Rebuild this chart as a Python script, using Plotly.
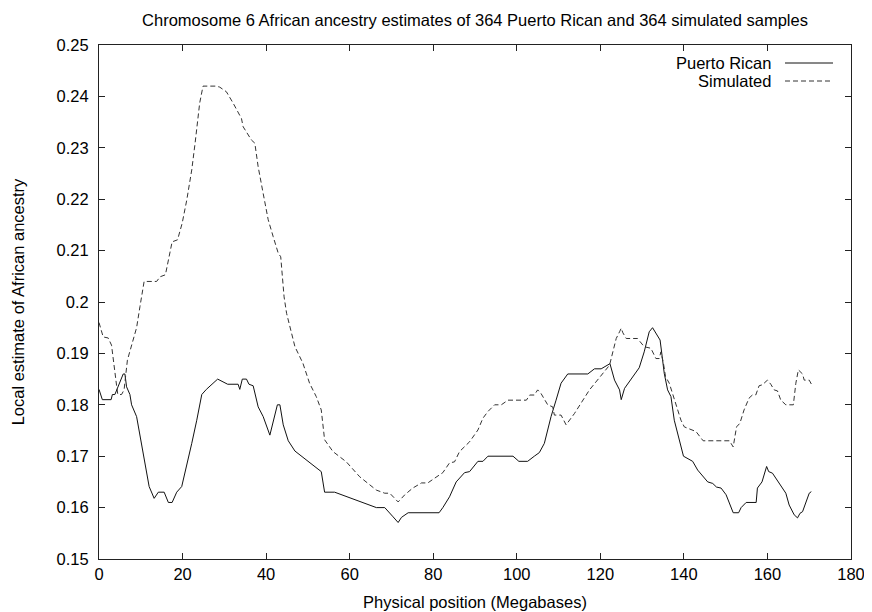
import plotly.graph_objects as go

pr_x = [0, 0.8, 2.9, 3.2, 3.8, 4.6, 5.8, 6.2, 6.6, 7.4, 7.8, 9.0, 10.2, 11.0, 12.0, 13.2, 14.2, 15.6,
        16.6, 17.5, 18.6, 19.8, 21.0, 22.2, 23.4, 24.6, 25.7, 28.4, 30.8, 33.3, 33.7, 34.3, 35.3, 35.9,
        36.9, 38.1, 39.3, 40.9, 42.7, 43.3, 44.1, 45.3, 46.9, 53.2, 54.0, 56.4, 66.4, 68.4, 70.4, 71.6,
        72.4, 74.0, 81.4, 82.3, 83.9, 85.5, 87.5, 88.7, 90.7, 91.9, 93.1, 99.1, 100.5, 102.6, 104.2,
        105.4, 106.6, 107.4, 108.2, 109.4, 110.6, 112.2, 117.0, 118.6, 120.2, 122.3, 123.4, 124.6,
        125.0, 125.8, 127.7, 129.3, 130.5, 131.7, 132.5, 133.7, 134.3, 134.8, 135.3, 136.1, 136.9,
        137.7, 138.9, 139.9, 142.1, 143.3, 145.7, 146.9, 147.8, 148.9, 150.1, 151.8, 153.1, 153.7,
        154.9, 157.3, 157.6, 158.7, 159.8, 160.3, 161.2, 162.8, 164.4, 165.2, 166.4, 167.2, 167.8,
        168.4, 169.2, 170.0, 170.5]
pr_y = [0.183, 0.181, 0.181, 0.182, 0.182, 0.1835, 0.186, 0.186, 0.1835, 0.182, 0.180, 0.1777, 0.1725,
        0.1686, 0.1641, 0.1618, 0.163, 0.163, 0.161, 0.161, 0.163, 0.1641, 0.168, 0.1725, 0.177, 0.182,
        0.183, 0.185, 0.184, 0.184, 0.183, 0.185, 0.185, 0.184, 0.1837, 0.1796, 0.1777, 0.1741, 0.180,
        0.180, 0.1761, 0.173, 0.171, 0.167, 0.163, 0.163, 0.160, 0.160, 0.1582, 0.1571, 0.1581, 0.159,
        0.159, 0.160, 0.1621, 0.165, 0.1668, 0.167, 0.169, 0.169, 0.170, 0.170, 0.169, 0.169, 0.170,
        0.1707, 0.1725, 0.1751, 0.1777, 0.1809, 0.1842, 0.186, 0.186, 0.187, 0.187, 0.188, 0.1848,
        0.1829, 0.181, 0.1832, 0.1855, 0.1872, 0.1903, 0.1942, 0.195, 0.1933, 0.1926, 0.1894, 0.1861,
        0.1829, 0.1816, 0.177, 0.1732, 0.170, 0.169, 0.1673, 0.165, 0.1647, 0.164, 0.1638, 0.1625,
        0.159, 0.159, 0.160, 0.161, 0.161, 0.1638, 0.165, 0.168, 0.167, 0.1667, 0.1647, 0.1628, 0.1605,
        0.1586, 0.158, 0.1589, 0.1592, 0.1611, 0.1628, 0.1631]

sim_x = [0, 1.0, 2.2, 3.0, 4.2, 4.5, 5.4, 6.0, 6.8, 7.6, 9.0, 9.8, 10.8, 13.8, 14.6, 15.9, 16.6, 17.5,
         18.8, 19.9, 21.0, 22.2, 23.0, 23.6, 24.1, 24.9, 28.1, 28.9, 30.5, 32.1, 34.1, 34.5, 36.5, 37.3,
         38.1, 39.3, 40.5, 41.7, 42.9, 43.5, 44.3, 44.9, 46.5, 46.9, 48.8, 50.4, 52.0, 53.2, 54.0, 56.0,
         59.2, 62.4, 66.4, 68.4, 69.6, 71.6, 73.2, 75.1, 77.2, 78.7, 80.3, 82.3, 83.9, 85.1, 86.3, 88.7,
         90.7, 91.9, 93.1, 94.7, 96.3, 97.9, 102.3, 103.1, 104.2, 105.0, 105.8, 107.4, 108.6, 109.0,
         110.6, 111.8, 113.8, 117.4, 122.2, 123.8, 124.6, 125.0, 125.4, 126.2, 128.9, 130.5, 132.1,
         133.3, 134.1, 134.5, 135.1, 135.6, 136.5, 137.3, 138.3, 139.3, 140.1, 142.9, 144.6, 150.9,
         151.8, 152.6, 153.4, 154.4, 155.6, 156.4, 157.2, 158.0, 158.8, 160.0, 160.8, 161.6, 162.4,
         163.2, 164.4, 166.2, 166.8, 167.4, 168.4, 168.8, 170.0, 170.6]
sim_y = [0.196, 0.1932, 0.193, 0.1916, 0.1838, 0.182, 0.182, 0.1829, 0.1887, 0.191, 0.195, 0.1991, 0.204,
         0.204, 0.2049, 0.2053, 0.2082, 0.2117, 0.2121, 0.2153, 0.2198, 0.2257, 0.2309, 0.2348, 0.2387,
         0.242, 0.242, 0.2418, 0.2409, 0.2387, 0.2357, 0.2341, 0.2315, 0.2309, 0.2263, 0.2211, 0.216,
         0.2127, 0.2095, 0.2088, 0.201, 0.1978, 0.1926, 0.1913, 0.1881, 0.1842, 0.1816, 0.179, 0.1732,
         0.1709, 0.1689, 0.166, 0.1634, 0.1628, 0.1628, 0.1611, 0.1625, 0.1638, 0.1648, 0.1648, 0.1657,
         0.1668, 0.1687, 0.1689, 0.1709, 0.1728, 0.1751, 0.1774, 0.1787, 0.180, 0.180, 0.1809, 0.1809,
         0.1819, 0.1819, 0.1829, 0.1822, 0.180, 0.1796, 0.178, 0.178, 0.1761, 0.1783, 0.1829, 0.1877,
         0.1929, 0.1942, 0.1949, 0.194, 0.1929, 0.1929, 0.1913, 0.191, 0.189, 0.189, 0.1903, 0.1881,
         0.1855, 0.1842, 0.1822, 0.1796, 0.177, 0.1757, 0.1748, 0.173, 0.173, 0.1718, 0.1757, 0.1764,
         0.179, 0.1813, 0.1819, 0.1819, 0.1837, 0.1839, 0.1848, 0.184, 0.1829, 0.1827, 0.1809, 0.180,
         0.180, 0.1842, 0.1868, 0.186, 0.1848, 0.1848, 0.1839]

x_ticks = [0, 20, 40, 60, 80, 100, 120, 140, 160, 180]
y_ticks = [0.15, 0.16, 0.17, 0.18, 0.19, 0.2, 0.21, 0.22, 0.23, 0.24, 0.25]
y_tick_text = ["0.15", "0.16", "0.17", "0.18", "0.19", "0.2", "0.21", "0.22", "0.23", "0.24", "0.25"]

series_names = ["Puerto Rican", "Simulated"]

FONT = "Liberation Sans, Arial, Helvetica, sans-serif"
FS = 16.5
SOLID_COLOR = "#111111"
DASH_COLOR = "#333333"
DASH = "5px,3px"

fig = go.Figure()
fig.add_trace(go.Scatter(x=pr_x, y=pr_y, mode="lines", name=series_names[0],
                         line=dict(color=SOLID_COLOR, width=1), showlegend=False))
fig.add_trace(go.Scatter(x=sim_x, y=sim_y, mode="lines", name=series_names[1],
                         line=dict(color=DASH_COLOR, width=1, dash=DASH), showlegend=False))

# page body has an 8px margin, so the figure is made 8px smaller and margins shifted
OFF = 8
W, H = 872 - OFF, 612 - OFF
L, R, T, B = 99 - OFF, 21, 45 - OFF, 53
pw, ph = W - L - R, H - T - B

def px2paper_x(px):
    return (px - OFF - L) / pw

def py2paper_y(py):
    return (H - B - (py - OFF)) / ph

# gnuplot-style key (text left, sample right)
for i, (name, color, dash) in enumerate([(series_names[0], SOLID_COLOR, "solid"),
                                          (series_names[1], DASH_COLOR, DASH)]):
    yy = py2paper_y(63 + 18 * i)
    fig.add_annotation(x=px2paper_x(773), y=yy, xref="paper", yref="paper", text=name,
                       showarrow=False, xanchor="right", yanchor="middle",
                       font=dict(family=FONT, size=FS, color="black"))
    fig.add_shape(type="line", xref="paper", yref="paper",
                  x0=px2paper_x(785), x1=px2paper_x(833), y0=yy, y1=yy,
                  line=dict(color=color, width=1, dash=dash))

axis_common = dict(showgrid=False, zeroline=False, showline=True, linecolor="#222222", linewidth=1,
                   mirror="ticks", ticks="inside", ticklen=6, tickcolor="#222222",
                   tickfont=dict(family=FONT, size=FS, color="black"))

fig.update_layout(
    width=W, height=H,
    margin=dict(l=L, r=R, t=T, b=B, autoexpand=False),
    paper_bgcolor="white", plot_bgcolor="white",
    font=dict(family=FONT, size=FS, color="black"),
    title=dict(text="Chromosome 6 African ancestry estimates of 364 Puerto Rican and 364 simulated samples",
               x=(L + pw / 2) / W, xanchor="center",
               y=1 - (20 - OFF) / H, yanchor="middle", font=dict(family=FONT, size=FS, color="black")),
    xaxis=dict(range=[0, 180], tickvals=x_ticks, ticktext=[str(v) for v in x_ticks],
               title=dict(text="Physical position (Megabases)", standoff=14,
                          font=dict(family=FONT, size=FS, color="black")),
               **axis_common),
    yaxis=dict(range=[0.15, 0.25], tickvals=y_ticks, ticktext=y_tick_text, ticklabelstandoff=6,
               title=dict(text="Local estimate of African ancestry", standoff=27,
                          font=dict(family=FONT, size=FS, color="black")),
               **axis_common),
)

fig.write_html("out.html")
